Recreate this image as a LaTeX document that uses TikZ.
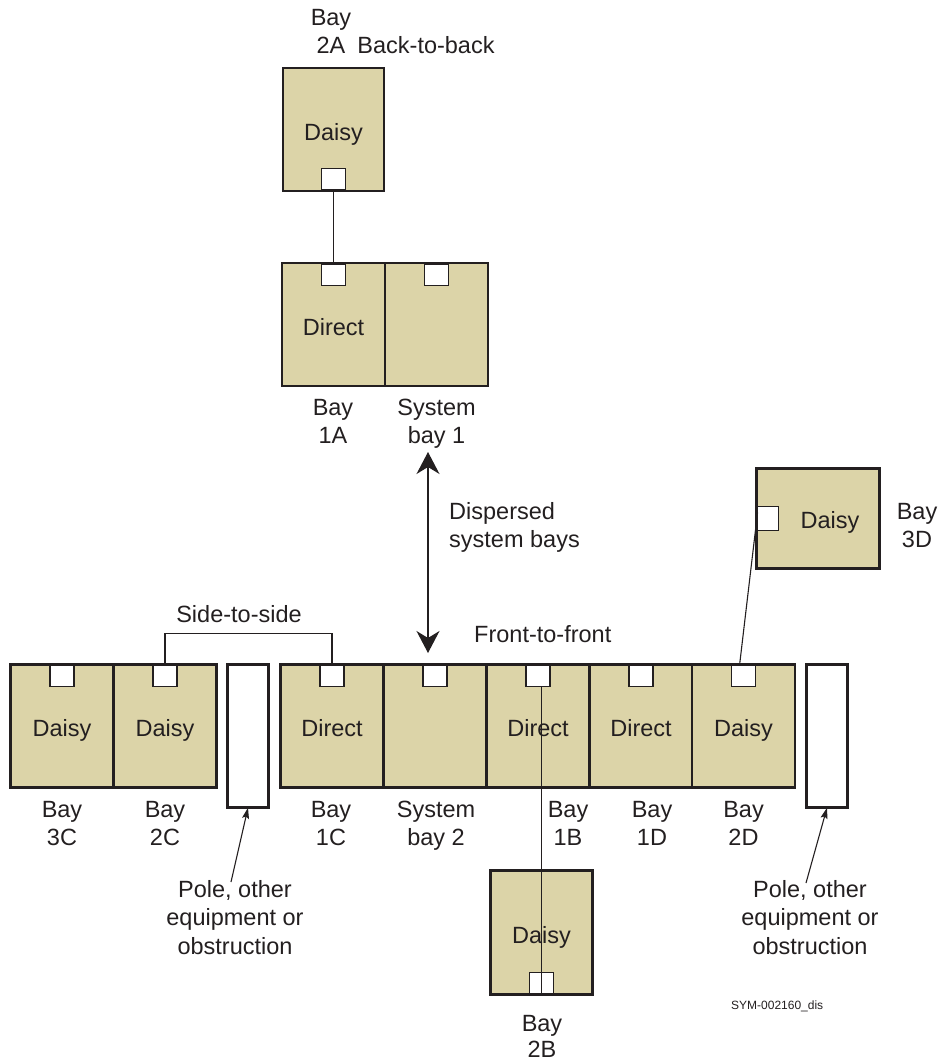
\documentclass[tikz,border=0pt]{standalone}
\usepackage{fontspec}
\setmainfont{Liberation Sans}
\usetikzlibrary{arrows.meta,calc}
\definecolor{bayfill}{RGB}{220,212,168}
\definecolor{ink}{RGB}{35,31,32}
\tikzset{
  bigtip/.tip={Stealth[length=22pt,width=23pt,inset=7pt]},
  smalltip/.tip={Stealth[length=11pt,width=7pt,inset=2pt]},
}
\begin{document}
\begin{tikzpicture}[x=1pt,y=-1pt,
  font=\fontsize{23.5}{27.5}\selectfont, text=ink,
  bay/.style={draw=ink, fill=bayfill, line width=2.6pt, minimum width=103pt,
    minimum height=123pt, inner sep=0pt, outer sep=0pt, text height=22pt, text depth=0pt},
  pole/.style={draw=ink, fill=white, line width=2.6pt, minimum width=41.5pt,
    minimum height=143.5pt, inner sep=0pt, outer sep=0pt},
  port/.style={draw=ink, fill=white, line width=1.2pt, minimum width=24pt,
    minimum height=21pt, inner sep=0pt, outer sep=0pt},
  wire/.style={draw=ink, line width=1.1pt},
  % multi-line captions are placed by the baseline of their last line
  caption/.style={align=center, anchor=base, inner sep=0pt},
]
\useasboundingbox (0,0) rectangle (941,1063);

% ---- upper group: back-to-back pair ----
\node[bay, minimum width=101pt] (b2A) at (333.5,129.5) {Daisy};
\node[bay] (b1A) at (333.5,324.5) {Direct};
\node[bay] (bS1) at (436.5,324.5) {};

% ---- remote daisy 3D ----
\node[bay, minimum width=123.5pt, minimum height=100.5pt] (b3D) at (818,518.5) {};
\node[text height=20pt, text depth=0pt, inner sep=0pt] (t3D) at (830,518.5) {Daisy};

% ---- main row ----
\node[bay] (b3C) at (62,725.8) {Daisy};
\node[bay] (b2C) at (165,725.8) {Daisy};
\node[pole] (poleL) at (248,736) {};
\node[bay] (b1C) at (332,725.8) {Direct};
\node[bay] (bS2) at (435,725.8) {};
\node[bay] (b1B) at (538,725.8) {Direct};
\node[bay] (b1D) at (641,725.8) {Direct};
\node[bay] (b2D) at (743.5,725.8) {Daisy};
\node[pole] (poleR) at (827,736) {};

% ---- remote daisy 2B ----
\node[bay, minimum width=102.5pt, minimum height=124.5pt] (b2B) at (541.5,932.5) {Daisy};

% ---- connector ports ----
\node[port, anchor=south] (p2A) at ([yshift=1.3pt]b2A.south) {};
\node[port, anchor=north] (p1A) at ([yshift=-1.3pt]b1A.north) {};
\node[port, anchor=north] (pS1) at ([yshift=-1.3pt]bS1.north) {};
\node[port, anchor=west, minimum width=21pt, minimum height=24pt] (p3D) at ([xshift=1.3pt]b3D.west) {};
\node[port, anchor=north] (p3C) at ([yshift=-1.3pt]b3C.north) {};
\node[port, anchor=north] (p2C) at ([yshift=-1.3pt]b2C.north) {};
\node[port, anchor=north] (p1C) at ([yshift=-1.3pt]b1C.north) {};
\node[port, anchor=north] (pS2) at ([yshift=-1.3pt]bS2.north) {};
\node[port, anchor=north] (p1B) at ([yshift=-1.3pt]b1B.north) {};
\node[port, anchor=north] (p1D) at ([yshift=-1.3pt]b1D.north) {};
\node[port, anchor=north] (p2D) at ([yshift=-1.3pt]b2D.north) {};
\node[port, anchor=south] (p2B) at ([yshift=1.3pt]b2B.south) {};

% ---- cabling ----
\draw[wire] (p2A.south) -- (p1A.north);
\draw[wire] (p2C.north) -- ++(0,-32) -| (p1C.north);
\draw[wire] ([yshift=6pt]p3D.west) -- ([xshift=-4pt]p2D.north);
\draw[wire] (p1B.south -| p2B.south) -- (p2B.south);

% ---- dispersed system bays arrow ----
\coordinate (dispTop) at (428,452);
\coordinate (dispBot) at (428,653);
\draw[wire, line width=1.2pt, {bigtip}-{bigtip}] (dispTop) -- (dispBot);

% ---- obstruction pointers ----
\coordinate (obsL) at (231,882);
\coordinate (obsR) at (806,883);
\draw[wire, -{smalltip}] (obsL) -- (poleL.south);
\draw[wire, -{smalltip}] (obsR) -- (poleR.south);

% ---- captions ----
\node[caption] (l2A) at (331,53) {Bay\\2A};
\node[caption] (lB2B) at (426,53) {Back-to-back};
\node[caption] (l1A) at (333,443) {Bay\\1A};
\node[caption] (lS1) at (436.5,443) {System\\bay 1};
\node[caption, align=left, anchor=base west] (ldisp) at (449,547) {Dispersed\\system bays};
\node[caption, anchor=base west] (lF2F) at (474,642) {Front-to-front};
\node[caption] (l3D) at (917,547) {Bay\\3D};
\node[caption] (lS2S) at (239,622) {Side-to-side};
\node[caption] (l3C) at (62,845) {Bay\\3C};
\node[caption] (l2C) at (165,845) {Bay\\2C};
\node[caption] (l1C) at (331,845) {Bay\\1C};
\node[caption] (lS2) at (436,845) {System\\bay 2};
\node[caption] (l1B) at (568,845) {Bay\\1B};
\node[caption] (l1D) at (652,845) {Bay\\1D};
\node[caption] (l2D) at (743.5,845) {Bay\\2D};
\node[caption, font=\fontsize{23.5}{28.5}\selectfont] (lobsL) at (235,954) {Pole, other\\equipment or\\obstruction};
\node[caption, font=\fontsize{23.5}{28.5}\selectfont] (lobsR) at (810,954) {Pole, other\\equipment or\\obstruction};
\node[caption, font=\fontsize{23.5}{26}\selectfont] (l2B) at (542,1057) {Bay\\2B};
\node[caption, anchor=base west, font=\fontsize{12}{14}\selectfont] (ref) at (731,1009) {SYM-002160\_dis};
\end{tikzpicture}
\end{document}
